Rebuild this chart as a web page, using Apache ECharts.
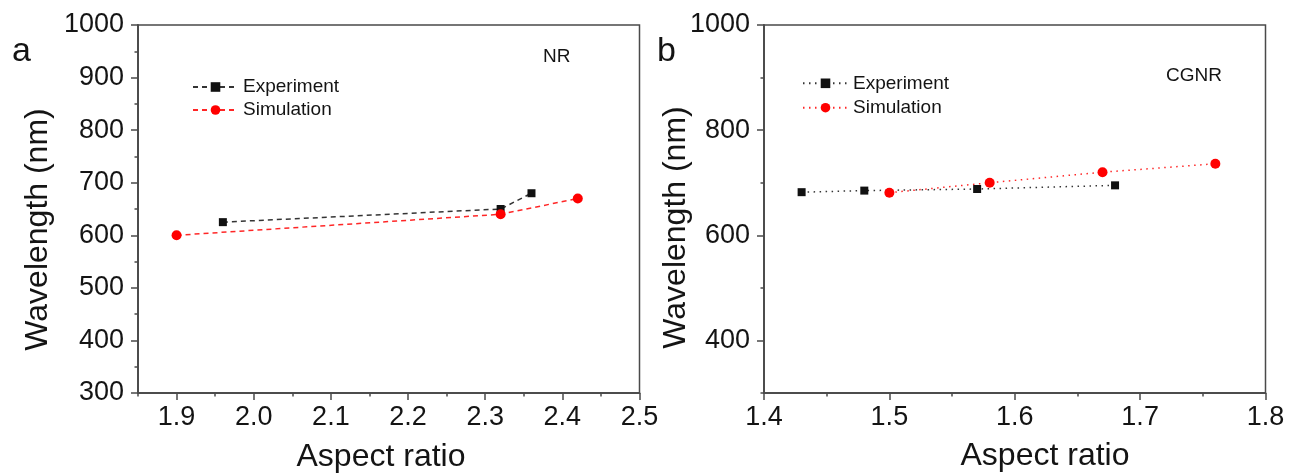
<!DOCTYPE html>
<html>
<head>
<meta charset="utf-8">
<script src="https://cdn.jsdelivr.net/npm/echarts@6/dist/echarts.min.js"></script>
<style>
html,body{margin:0;padding:0;background:#fff;}
#chart{width:1290px;height:476px;}
</style>
</head>
<body>
<div id="chart"></div>
<script>
// ---- Data ----
// Panel a: NR
const nrExpX = [1.96, 2.32, 2.36];
const nrExpY = [625, 650, 680];
const nrSimX = [1.90, 2.32, 2.42];
const nrSimY = [600, 640, 670];
// Panel b: CGNR
const cgExpX = [1.43, 1.48, 1.57, 1.68];
const cgExpY = [682, 685, 688, 695];
const cgSimX = [1.50, 1.58, 1.67, 1.76];
const cgSimY = [681, 700, 720, 736];

// Tick labels / tick positions
const nrXTicks = [1.9, 2.0, 2.1, 2.2, 2.3, 2.4, 2.5];
const nrXMinor = [1.85, 1.95, 2.05, 2.15, 2.25, 2.35, 2.45];
const nrYTicks = [300, 400, 500, 600, 700, 800, 900, 1000];
const nrYMinor = [350, 450, 550, 650, 750, 850, 950];
const cgXTicks = [1.4, 1.5, 1.6, 1.7, 1.8];
const cgXMinor = [1.45, 1.55, 1.65, 1.75];
const cgYTicks = [400, 600, 800, 1000];
const cgYMinor = [300, 500, 700, 900];

const seriesNames = ['Experiment', 'Simulation'];
const panelLabels = ['a', 'b'];
const panelTags = ['NR', 'CGNR'];
const xTitle = 'Aspect ratio';
const yTitle = 'Wavelength (nm)';

// ---- Styling ----
const FONT = '"Liberation Sans", Arial, sans-serif';
const AXC = '#4a4a4a';
const TXT = '#141414';

function pairs(xs, ys) { return xs.map((x, i) => [x, ys[i]]); }

function xAx(grid, min, max, ticks, major) {
  return {
    type: 'value', gridIndex: grid, min: min, max: max, position: 'bottom',
    axisLine: { show: true, onZero: false, lineStyle: { color: AXC, width: 1.5 } },
    axisTick: { show: true, customValues: ticks, length: major ? 7 : 3.5, lineStyle: { color: AXC, width: 1.5 } },
    axisLabel: major ? { customValues: ticks, margin: 11, fontSize: 27, fontFamily: FONT, color: TXT,
      formatter: v => Number(v).toFixed(1) } : { show: false },
    splitLine: { show: false }
  };
}
function yAx(grid, min, max, ticks, major) {
  return {
    type: 'value', gridIndex: grid, min: min, max: max, position: 'left',
    axisLine: { show: true, onZero: false, lineStyle: { color: AXC, width: 1.5 } },
    axisTick: { show: true, customValues: ticks, length: major ? 7 : 3.5, lineStyle: { color: AXC, width: 1.5 } },
    axisLabel: major ? { customValues: ticks, margin: 14, fontSize: 27, fontFamily: FONT, color: TXT,
      formatter: v => String(Math.round(v)) } : { show: false },
    splitLine: { show: false }
  };
}

function lineSeries(name, xi, yi, data, color, symbol, size, dash) {
  return {
    type: 'line', name: name, xAxisIndex: xi, yAxisIndex: yi,
    data: data, symbol: symbol, symbolSize: size, showSymbol: true,
    itemStyle: { color: color, borderWidth: 0 },
    lineStyle: { color: color, width: 1.5, type: dash, opacity: 0.85 },
    emphasis: { disabled: true },
    z: color === '#ff0000' ? 3 : 2
  };
}

const DASH = [5, 4];
const DOT = [1.5, 4.5];

const option = {
  animation: false,
  backgroundColor: '#ffffff',
  grid: [
    { left: 138, top: 25, width: 501.5, height: 368, show: true, borderColor: AXC, borderWidth: 1.5, backgroundColor: 'transparent' },
    { left: 764, top: 25, width: 501.5, height: 368, show: true, borderColor: AXC, borderWidth: 1.5, backgroundColor: 'transparent' }
  ],
  xAxis: [
    xAx(0, 1.85, 2.5, nrXTicks, true),
    xAx(0, 1.85, 2.5, nrXMinor, false),
    xAx(1, 1.4, 1.8, cgXTicks, true),
    xAx(1, 1.4, 1.8, cgXMinor, false)
  ],
  yAxis: [
    yAx(0, 300, 1000, nrYTicks, true),
    yAx(0, 300, 1000, nrYMinor, false),
    yAx(1, 300, 1000, cgYTicks, true),
    yAx(1, 300, 1000, cgYMinor, false)
  ],
  legend: [
    {
      orient: 'vertical', left: 192, top: 77.5, padding: 0, itemWidth: 45, itemHeight: 12, itemGap: 4,
      data: ['NR ' + seriesNames[0], 'NR ' + seriesNames[1]],
      formatter: n => n.replace(/^NR /, ''),
      textStyle: { fontSize: 19, fontFamily: FONT, color: TXT },
      selectedMode: false
    },
    {
      orient: 'vertical', left: 802, top: 73.8, padding: 0, itemWidth: 45, itemHeight: 12, itemGap: 5.4,
      data: ['CGNR ' + seriesNames[0], 'CGNR ' + seriesNames[1]],
      formatter: n => n.replace(/^CGNR /, ''),
      textStyle: { fontSize: 19, fontFamily: FONT, color: TXT },
      selectedMode: false
    }
  ],
  series: [
    lineSeries('NR ' + seriesNames[0], 0, 0, pairs(nrExpX, nrExpY), '#111111', 'rect', 8, DASH),
    lineSeries('NR ' + seriesNames[1], 0, 0, pairs(nrSimX, nrSimY), '#ff0000', 'circle', 10, DASH),
    lineSeries('CGNR ' + seriesNames[0], 2, 2, pairs(cgExpX, cgExpY), '#111111', 'rect', 8, DOT),
    lineSeries('CGNR ' + seriesNames[1], 2, 2, pairs(cgSimX, cgSimY), '#ff0000', 'circle', 10, DOT)
  ],
  graphic: [
    { type: 'text', x: 38, y: 229.5, rotation: Math.PI / 2,
      style: { text: yTitle, fontSize: 32, fontFamily: FONT, fill: TXT, align: 'center', verticalAlign: 'middle' } },
    { type: 'text', x: 676.5, y: 227.5, rotation: Math.PI / 2,
      style: { text: yTitle, fontSize: 32, fontFamily: FONT, fill: TXT, align: 'center', verticalAlign: 'middle' } },
    { type: 'text', x: 381, y: 457,
      style: { text: xTitle, fontSize: 32, fontFamily: FONT, fill: TXT, align: 'center', verticalAlign: 'middle' } },
    { type: 'text', x: 1045, y: 456,
      style: { text: xTitle, fontSize: 32, fontFamily: FONT, fill: TXT, align: 'center', verticalAlign: 'middle' } },
    { type: 'text', x: 12, y: 52,
      style: { text: panelLabels[0], fontSize: 34, fontFamily: FONT, fill: TXT, align: 'left', verticalAlign: 'middle' } },
    { type: 'text', x: 657, y: 52,
      style: { text: panelLabels[1], fontSize: 34, fontFamily: FONT, fill: TXT, align: 'left', verticalAlign: 'middle' } },
    { type: 'text', x: 543, y: 56.5,
      style: { text: panelTags[0], fontSize: 19, fontFamily: FONT, fill: TXT, align: 'left', verticalAlign: 'middle' } },
    { type: 'text', x: 1166, y: 75.5,
      style: { text: panelTags[1], fontSize: 19, fontFamily: FONT, fill: TXT, align: 'left', verticalAlign: 'middle' } }
  ]
};

const chart = echarts.init(document.getElementById('chart'), null, { renderer: 'canvas' });
chart.setOption(option);
</script>
</body>
</html>
